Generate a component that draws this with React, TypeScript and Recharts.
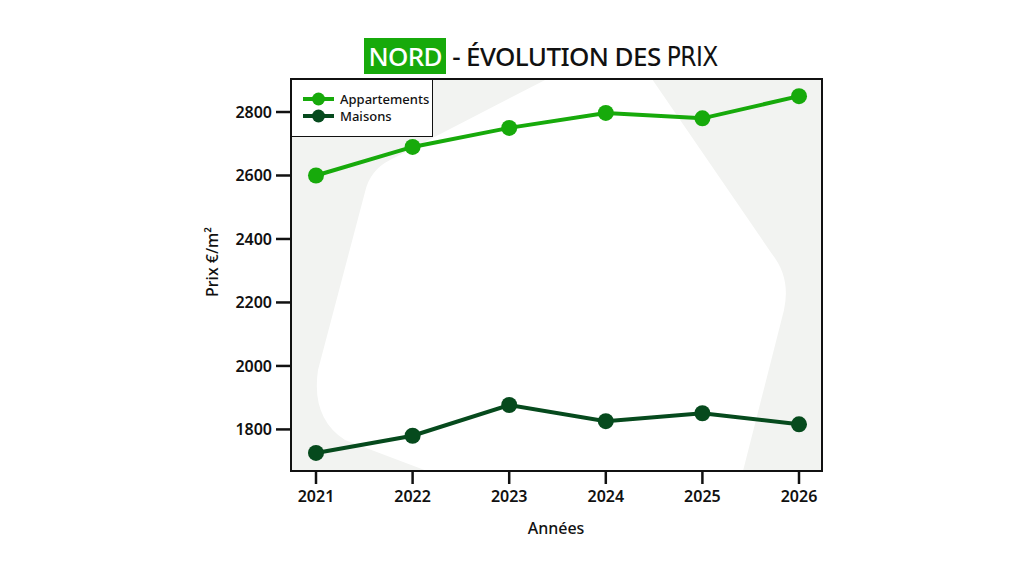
import React from "react";
import { LineChart, Line, XAxis, YAxis } from "recharts";

const YEARS = ["2021", "2022", "2023", "2024", "2025", "2026"];
const APPARTEMENTS = [2600, 2690, 2750, 2797, 2780, 2850];
const MAISONS = [1726, 1780, 1877, 1826, 1851, 1816];
const Y_TICKS = [1800, 2000, 2200, 2400, 2600, 2800];

const LIGHT_GREEN = "#17aa0b";
const DARK_GREEN = "#064a1d";
const FONT = "'Noto Sans', 'Open Sans', sans-serif";

const data = YEARS.map((year, i) => ({
  year,
  appartements: APPARTEMENTS[i],
  maisons: MAISONS[i],
}));

const SERIES = [
  { key: "appartements", label: "Appartements", color: LIGHT_GREEN },
  { key: "maisons", label: "Maisons", color: DARK_GREEN },
];

// plot frame in page coordinates
const PLOT = { left: 291, top: 79, right: 822, bottom: 471 };

function LegendBox() {
  return (
    <div
      style={{
        position: "absolute",
        left: PLOT.left,
        top: PLOT.top,
        width: 142,
        height: 58,
        background: "#fff",
        border: "1.5px solid #111",
        boxSizing: "border-box",
        padding: "10px 0 0 10px",
        fontSize: 13,
        fontWeight: 500,
        color: "#111",
      }}
    >
      {SERIES.map((s) => (
        <div key={s.key} style={{ display: "flex", alignItems: "center", height: 17 }}>
          <svg width={34} height={16} style={{ marginRight: 4 }}>
            <line x1={1} y1={8} x2={32} y2={8} stroke={s.color} strokeWidth={4} />
            <circle cx={16.5} cy={8} r={6.5} fill={s.color} />
          </svg>
          <span>{s.label}</span>
        </div>
      ))}
    </div>
  );
}

export default function App() {
  const w = PLOT.right - PLOT.left;
  const h = PLOT.bottom - PLOT.top;
  return (
    <div
      style={{
        position: "relative",
        width: 1024,
        height: 576,
        margin: -8,
        background: "#fff",
        overflow: "hidden",
        fontFamily: FONT,
      }}
    >
      {/* decorative plot background */}
      <svg width={1024} height={576} style={{ position: "absolute", left: 0, top: 0 }}>
        <rect x={PLOT.left} y={PLOT.top} width={w} height={h} fill="#f2f3f1" />
        <path
          d="M 547 79 L 390 160 Q 370 170 365 192 L 318 370 Q 311 418 345 440 L 427 471 L 743 471 L 784 310 Q 791 278 772 254 L 652 79 Z"
          fill="#ffffff"
        />
        <rect
          x={PLOT.left}
          y={PLOT.top}
          width={w}
          height={h}
          fill="none"
          stroke="#111"
          strokeWidth={2}
        />
      </svg>

      {/* title */}
      <div
        style={{
          position: "absolute",
          top: 38,
          left: 0,
          width: 1024,
          textAlign: "center",
          fontSize: 26,
          fontWeight: 500,
          color: "#111",
          letterSpacing: -0.6,
          paddingLeft: 58,
          boxSizing: "border-box",
          whiteSpace: "nowrap",
        }}
      >
        <span style={{ background: LIGHT_GREEN, color: "#fff", padding: "0 4px" }}>NORD</span>
        <span> - ÉVOLUTION DES </span>
        <span style={{ fontFamily: "'DejaVu Sans Condensed', sans-serif", fontWeight: 400 }}>PRIX</span>
      </div>

      <div style={{ position: "absolute", left: 0, top: 0 }}>
        <LineChart
          width={1024}
          height={576}
          data={data}
          margin={{ top: PLOT.top, right: 1024 - PLOT.right, bottom: 576 - PLOT.bottom - 40, left: PLOT.left - 80 }}
        >
          <XAxis
            dataKey="year"
            height={40}
            axisLine={false}
            tickLine={{ stroke: "#111", strokeWidth: 2.5 }}
            tickSize={13}
            tickMargin={7}
            padding={{ left: 25, right: 23 }}
            tick={{ fill: "#111", fontSize: 16, fontWeight: 600, fontFamily: FONT }}
          />
          <YAxis
            width={80}
            domain={[1669, 2904]}
            ticks={Y_TICKS}
            allowDataOverflow
            axisLine={false}
            tickLine={{ stroke: "#111", strokeWidth: 2.5 }}
            tickSize={15}
            tickMargin={4}
            tick={{ fill: "#111", fontSize: 16, fontWeight: 600, fontFamily: FONT }}
          />
          {SERIES.map((s) => (
            <Line
              key={s.key}
              dataKey={s.key}
              name={s.label}
              stroke={s.color}
              strokeWidth={4}
              dot={{ r: 8, fill: s.color, stroke: "none" }}
              activeDot={false}
              isAnimationActive={false}
            />
          ))}
        </LineChart>
      </div>

      <LegendBox />

      {/* axis titles */}
      <div
        style={{
          position: "absolute",
          left: 556,
          top: 528,
          transform: "translate(-50%, -50%)",
          fontSize: 16,
          fontWeight: 500,
          color: "#111",
        }}
      >
        Années
      </div>
      <div
        style={{
          position: "absolute",
          left: 212,
          top: 262,
          transform: "translate(-50%, -50%) rotate(-90deg)",
          fontSize: 16,
          fontWeight: 500,
          color: "#111",
          whiteSpace: "nowrap",
        }}
      >
        Prix €/m²
      </div>
    </div>
  );
}
